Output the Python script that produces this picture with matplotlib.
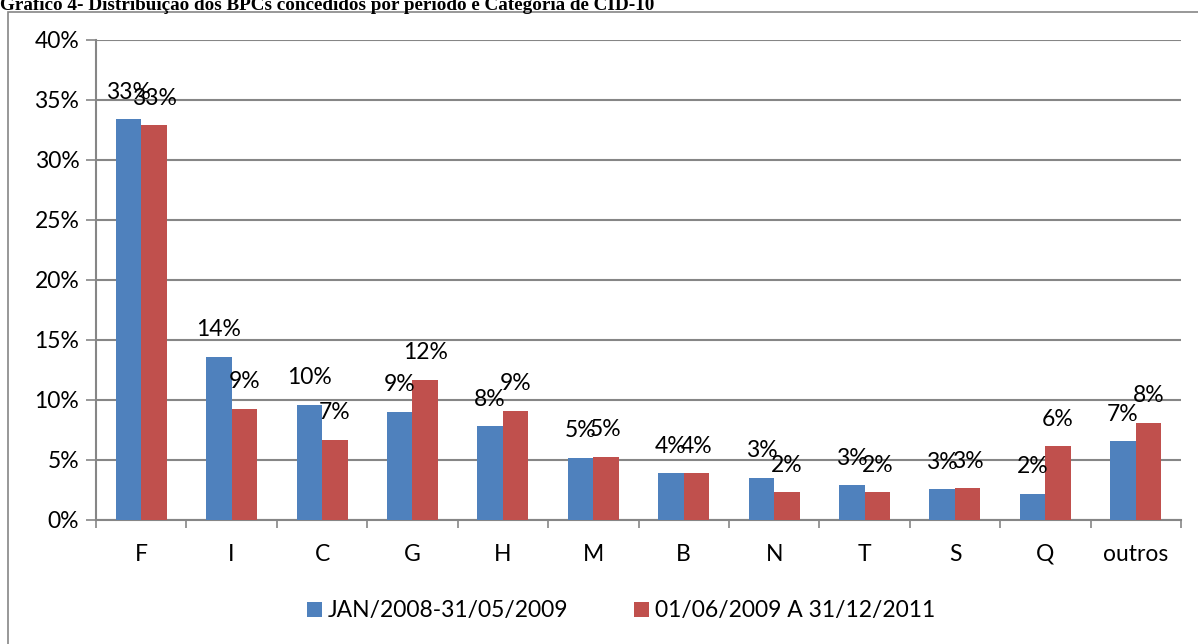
import matplotlib
matplotlib.use("Agg")
import matplotlib.pyplot as plt
import matplotlib.patches as patches
import numpy as np

categorias = ["F", "I", "C", "G", "H", "M", "B", "N", "T", "S", "Q", "outros"]
periodo1 = [33.4, 13.6, 9.6, 9.0, 7.8, 5.2, 3.9, 3.5, 2.9, 2.55, 2.2, 6.55]
periodo2 = [32.9, 9.25, 6.7, 11.7, 9.1, 5.25, 3.9, 2.3, 2.3, 2.65, 6.15, 8.1]
rotulos1 = ["33%", "14%", "10%", "9%", "8%", "5%", "4%", "3%", "3%", "3%", "2%", "7%"]
rotulos2 = ["33%", "9%", "7%", "12%", "9%", "5%", "4%", "2%", "2%", "3%", "6%", "8%"]
nomes = ["JAN/2008-31/05/2009", "01/06/2009 A 31/12/2011"]
titulo = "Gráfico 4- Distribuição dos BPCs concedidos por período e Categoria de CID-10"

azul = "#4F81BD"
vermelho = "#C0504D"
cinza = "#868686"

plt.rcParams['font.family'] = ['Lato', 'DejaVu Sans']
fs = 16.5

W, H = 1198, 644
fig = plt.figure(figsize=(W / 100, H / 100), dpi=100)
ax = fig.add_axes([96 / W, 1 - 520 / H, (1181 - 96) / W, (520 - 40) / H])

x = np.arange(len(categorias))
larg = 0.282
b1 = ax.bar(x - larg / 2, periodo1, larg, color=azul, label=nomes[0], zorder=3)
b2 = ax.bar(x + larg / 2, periodo2, larg, color=vermelho, label=nomes[1], zorder=3)

for barras, rot in ((b1, rotulos1), (b2, rotulos2)):
    for b, r in zip(barras, rot):
        ax.annotate(r, (b.get_x() + b.get_width() / 2, b.get_height()),
                    xytext=(0, 19.5), textcoords="offset points",
                    ha="center", va="center", fontsize=fs, zorder=4)

ax.set_xlim(-0.5, len(categorias) - 0.5)
ax.set_ylim(0, 40)
ax.set_yticks(range(0, 41, 5))
ax.set_yticklabels([f"{v}%" for v in range(0, 41, 5)])
ax.yaxis.grid(True, color=cinza, linewidth=1.5, zorder=0)
ax.set_xticks(x)
ax.set_xticklabels(categorias)
ax.set_xticks(np.arange(-0.5, len(categorias)), minor=True)
ax.tick_params(axis="x", which="major", length=0, pad=17, labelsize=fs)
ax.tick_params(axis="x", which="minor", length=6, width=1.2, color=cinza)
ax.tick_params(axis="y", length=7, width=1.2, color=cinza, pad=5, labelsize=fs)
for s in ("top", "right"):
    ax.spines[s].set_visible(False)
for s in ("left", "bottom"):
    ax.spines[s].set_color(cinza)
    ax.spines[s].set_linewidth(1.5)

fig.legend(loc="center", bbox_to_anchor=(621 / W, 1 - 611 / H), ncol=2,
           frameon=False, fontsize=fs, handlelength=0.65, handleheight=0.65,
           handletextpad=0.25, columnspacing=2.9)

fig.text(0, 1 - 10.5 / H, titulo, fontsize=13.8, fontweight="bold",
         family="Liberation Serif", va="baseline", ha="left")
fig.patches.append(patches.Rectangle((8 / W, -0.1), 1.2, 1 - 12 / H + 0.1,
                                     transform=fig.transFigure, fill=False,
                                     edgecolor=cinza, linewidth=1.2))

fig.savefig("out.png", dpi=100)
